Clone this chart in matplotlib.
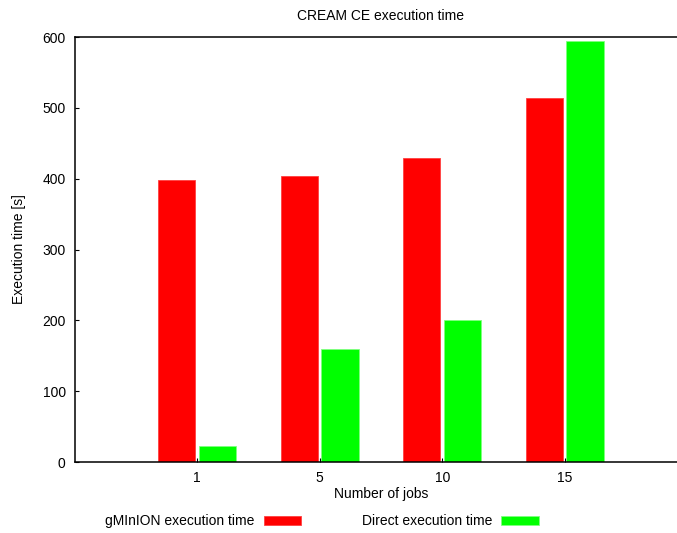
import matplotlib
matplotlib.use("Agg")
import matplotlib.pyplot as plt
import numpy as np

plt.rcParams['font.family'] = ['Liberation Sans', 'DejaVu Sans']

categories = ["1", "5", "10", "15"]
gminion = [398, 404, 429, 514]
direct = [23, 160, 201, 595]
title = "CREAM CE execution time"
xlabel = "Number of jobs"
ylabel = "Execution time [s]"
series_names = ["gMInION execution time", "Direct execution time"]
yticks = [0, 100, 200, 300, 400, 500, 600]

fig = plt.figure(figsize=(6.77, 5.33), dpi=100)
ax = fig.add_axes([74.7/677, 1-462/533, 612.5/677, 425/533])

x = np.arange(1, len(categories)+1)
w = 0.305
off = 0.167
ax.bar(x-off, gminion, width=w, color='#ff0000', edgecolor='#ff4040', linewidth=0.6, label=series_names[0])
ax.bar(x+off, direct, width=w, color='#00ff00', edgecolor='#80ff80', linewidth=0.6, label=series_names[1])

ax.set_xlim(0, 5)
ax.set_ylim(0, 600)
ax.set_xticks(x)
ax.set_xticklabels(categories)
ax.set_yticks(yticks)
ax.tick_params(direction='in', length=3, width=0.8, labelsize=10, pad=6.5, top=False, right=False)
for s in ax.spines.values():
    s.set_linewidth(1.1)
ax.spines['right'].set_visible(False)

ax.set_title(title, fontsize=10, y=(462-16)/425, va='center', pad=0)
ax.set_xlabel(xlabel, fontsize=10)
ax.xaxis.set_label_coords(0.5, (462-494)/425)
ax.xaxis.label.set_va('center')
ax.set_ylabel(ylabel, fontsize=10)
ax.yaxis.set_label_coords((18.7-74.7)/612.5, 0.5)
ax.yaxis.label.set_va('center')

fig.legend(loc='center', bbox_to_anchor=(322/677, 1-521/533), ncol=2, markerfirst=False,
           frameon=False, fontsize=10, handlelength=2.67, handleheight=0.6,
           handletextpad=0.65, columnspacing=4.4, borderpad=0)

fig.savefig("out.png", dpi=100)
